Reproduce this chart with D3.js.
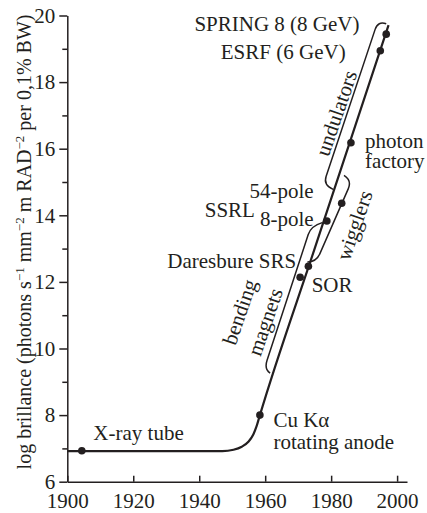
<!DOCTYPE html>
<html>
<head>
<meta charset="utf-8">
<script src="https://cdn.jsdelivr.net/npm/d3@7"></script>
<style>
  body { margin: 0; background: #fff; }
  svg text { font-family: "Liberation Serif", "DejaVu Serif", serif; fill: #231f20; }
</style>
</head>
<body>
<script>
// Light sources (year, log brillance)
const sourceNames = ['X-ray tube', 'Cu Kα', 'SOR', 'Daresbure SRS', 'SSRL 8-pole', 'SSRL 54-pole', 'photon factory', 'ESRF', 'SPRING 8'];
const sourceYears = [1904.4, 1958.4, 1970.6, 1973.1, 1978.7, 1983.2, 1986.0, 1994.9, 1996.7];
const sourceValues = [6.93, 8.0, 12.14, 12.47, 13.83, 14.36, 16.18, 18.94, 19.44];

// Trend curve
const trendYears = [1900, 1947, 1950.4, 1952.9, 1954.9, 1956.4, 1957.5, 1958.4, 1975, 1997.4];
const trendValues = [6.92, 6.92, 6.96, 7.05, 7.2, 7.42, 7.7, 8.0, 13.0, 19.71];

// Brackets: hook end, corner, corner, hook end
const bracketNames = ['bending magnets', 'wigglers', 'undulators'];
const bracketYears = [[1961.5, 1959.7, 1973.9, 1977.3], [1983.9, 1986.3, 1975.5, 1972.8], [1980.6, 1977.6, 1994.2, 1996.7]];
const bracketValues = [[9.26, 9.38, 13.68, 13.78], [15.2, 15.05, 12.6, 12.6], [14.78, 14.91, 19.84, 19.75]];

// Labels
const labelTexts = ['SPRING 8 (8 GeV)', 'ESRF (6 GeV)', 'photon', 'factory', '54-pole', 'SSRL', '8-pole', 'Daresbure SRS', 'SOR', 'Cu Kα', 'rotating anode', 'X-ray tube'];
const labelYears = [1988.6, 1984.4, 1990.3, 1990.3, 1974.7, 1956.9, 1974.7, 1969.4, 1974.1, 1962.5, 1962.5, 1907.9];
const labelValues = [19.52, 18.69, 16.01, 15.41, 14.52, 13.96, 13.68, 12.42, 11.71, 7.64, 6.98, 7.24];
const labelAnchors = ['end', 'end', 'start', 'start', 'end', 'end', 'end', 'end', 'start', 'start', 'start', 'start'];

const slantTexts = ['undulators', 'bending', 'magnets', 'wigglers'];
const slantYears = [1981.5, 1952.2, 1959.9, 1987.0];
const slantValues = [17.07, 11.1, 10.8, 13.7];

const xTicks = [1900, 1920, 1940, 1960, 1980, 2000];
const yTicks = [6, 8, 10, 12, 14, 16, 18, 20];
const yMinorTicks = [7, 9, 11, 13, 15, 17, 19];

const width = 427;
const height = 513;
const ink = '#231f20';

const svg = d3.select('body').append('svg').attr('width', width).attr('height', height);

const x = d3.scaleLinear().domain([1900, 2003]).range([67.3, 407]);
const y = d3.scaleLinear().domain([6, 20]).range([481.7, 15.5]);

// Axes
const xAxis = svg.append('g')
  .attr('transform', `translate(0,${y(6)})`)
  .call(d3.axisBottom(x).tickValues(xTicks).tickFormat(d3.format('d')).tickSizeInner(-6).tickSizeOuter(0).tickPadding(11));

svg.append('g')
  .attr('transform', `translate(${x(1900)},0)`)
  .call(d3.axisLeft(y).tickValues(yTicks).tickSizeInner(8).tickSizeOuter(0).tickPadding(4));

svg.append('g')
  .attr('transform', `translate(${x(1900)},0)`)
  .call(d3.axisLeft(y).tickValues(yMinorTicks).tickSize(5).tickFormat(''))
  .select('.domain').remove();

svg.selectAll('.domain').attr('stroke', ink).attr('stroke-width', 1.5);
svg.selectAll('.tick line').attr('stroke', ink).attr('stroke-width', 1.5);
svg.selectAll('.tick text')
  .attr('font-family', null)
  .style('font-size', '21px')
  .attr('fill', ink);
xAxis.selectAll('.tick text').attr('dy', '0.71em');

// Y title with superscripts
const title = svg.append('text')
  .attr('transform', 'translate(31,242) rotate(-90)')
  .attr('text-anchor', 'middle')
  .style('font-size', '20px');
const sup = (t) => {
  title.append('tspan').attr('dy', -7).style('font-size', '13px').text(t);
};
title.append('tspan').text('log brillance (photons s');
sup('−1');
title.append('tspan').attr('dy', 7).text(' mm');
sup('−2');
title.append('tspan').attr('dy', 7).text(' m RAD');
sup('−2');
title.append('tspan').attr('dy', 7).text(' per 0,1% BW)');

// Trend curve
const trend = trendYears.map((d, i) => [d, trendValues[i]]);
svg.append('path')
  .datum(trend)
  .attr('fill', 'none')
  .attr('stroke', ink)
  .attr('stroke-width', 2.2)
  .attr('d', d3.line().x((d) => x(d[0])).y((d) => y(d[1])).curve(d3.curveMonotoneX));

// Brackets
function bracketPath(pts) {
  const [p0, c1, c2, p3] = pts;
  const len = Math.hypot(c2[0] - c1[0], c2[1] - c1[1]);
  const ux = (c2[0] - c1[0]) / len;
  const uy = (c2[1] - c1[1]) / len;
  const r = 9;
  const p = d3.path();
  p.moveTo(p0[0], p0[1]);
  p.quadraticCurveTo(c1[0], c1[1], c1[0] + ux * r, c1[1] + uy * r);
  p.lineTo(c2[0] - ux * r, c2[1] - uy * r);
  p.quadraticCurveTo(c2[0], c2[1], p3[0], p3[1]);
  return p.toString();
}

svg.selectAll('.bracket')
  .data(bracketNames)
  .enter()
  .append('path')
  .attr('class', 'bracket')
  .attr('fill', 'none')
  .attr('stroke', ink)
  .attr('stroke-width', 1.5)
  .attr('d', (d, i) => bracketPath(bracketYears[i].map((yr, j) => [x(yr), y(bracketValues[i][j])])));

// Source dots
svg.selectAll('.source')
  .data(sourceNames)
  .enter()
  .append('circle')
  .attr('class', 'source')
  .attr('cx', (d, i) => x(sourceYears[i]))
  .attr('cy', (d, i) => y(sourceValues[i]))
  .attr('r', 3.8)
  .attr('fill', ink);

// Labels
svg.selectAll('.label')
  .data(labelTexts)
  .enter()
  .append('text')
  .attr('class', 'label')
  .attr('x', (d, i) => x(labelYears[i]))
  .attr('y', (d, i) => y(labelValues[i]))
  .attr('text-anchor', (d, i) => labelAnchors[i])
  .style('font-size', '21px')
  .text((d) => d);

svg.selectAll('.slant')
  .data(slantTexts)
  .enter()
  .append('text')
  .attr('class', 'slant')
  .attr('transform', (d, i) => `translate(${x(slantYears[i])},${y(slantValues[i])}) rotate(-71)`)
  .attr('text-anchor', 'middle')
  .attr('dy', '0.35em')
  .style('font-size', '21px')
  .text((d) => d);
</script>
</body>
</html>
